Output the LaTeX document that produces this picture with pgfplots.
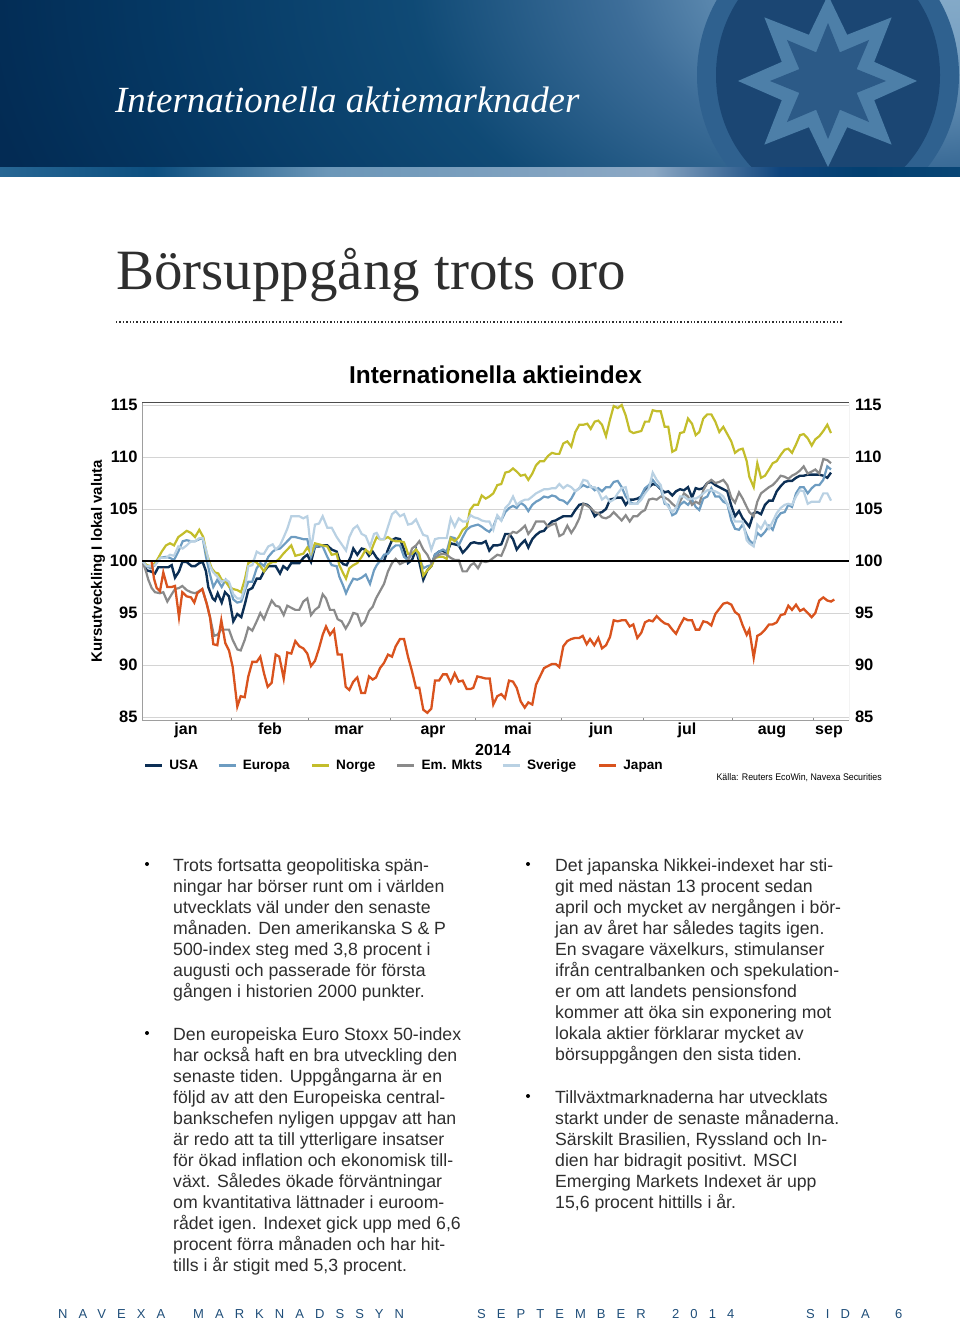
\documentclass[border=0pt]{standalone}
\usepackage{fontspec}
\usepackage{pgfplots}
\pgfplotsset{compat=1.18}
\setmainfont{Liberation Sans}
\newfontfamily\serifhead{Liberation Serif}
\newfontfamily\footfont[LetterSpace=85]{Liberation Sans}
\definecolor{cUSA}{HTML}{0C2F55}
\definecolor{cEur}{HTML}{6D9CC1}
\definecolor{cNor}{HTML}{C3BD2B}
\definecolor{cEm}{HTML}{8A8A8A}
\definecolor{cSve}{HTML}{B9D1E3}
\definecolor{cJap}{HTML}{D9531E}
\definecolor{ringc}{HTML}{2F618F}
\definecolor{innerc}{HTML}{1B4673}
\definecolor{starb}{HTML}{4D7FA8}
\definecolor{stari}{HTML}{2C5A87}
\definecolor{txt}{HTML}{2E2E2E}
\definecolor{foot}{HTML}{1F4E79}
\pgfdeclareradialshading{glow}{\pgfpoint{25bp}{6.25bp}}{%
 rgb(0bp)=(0.55,0.69,0.80);
 rgb(7bp)=(0.47,0.63,0.76);
 rgb(15bp)=(0.24,0.43,0.60);
 rgb(24bp)=(0.06,0.29,0.46);
 rgb(35bp)=(0.02,0.22,0.39);
 rgb(43bp)=(0.01,0.17,0.33);
 rgb(56bp)=(0.01,0.14,0.30);
 rgb(130bp)=(0.01,0.14,0.30)}
\pgfdeclarehorizontalshading{strip}{100bp}{%
 rgb(0bp)=(0.29,0.50,0.66);
 rgb(19bp)=(0.23,0.47,0.64);
 rgb(33bp)=(0.05,0.31,0.50);
 rgb(42bp)=(0.42,0.59,0.72);
 rgb(59bp)=(0.55,0.66,0.77);
 rgb(65.6bp)=(0.06,0.27,0.49);
 rgb(70bp)=(0.01,0.25,0.44);
 rgb(83bp)=(0.08,0.31,0.49);
 rgb(100bp)=(0.24,0.44,0.60)}
\newcommand\bodyfont{\fontsize{17.68}{21}\selectfont}
\begin{document}
\begin{tikzpicture}
\useasboundingbox (0,0) rectangle (960pt,-1325pt);
\begin{scope}[x=1pt,y=-1pt]
% header band
\begin{scope}
\clip (0,0) rectangle (960,167);
\shade[shading=glow] (0,-280) rectangle (960,360);
\fill[ringc] (828,75) ellipse [x radius=131,y radius=142];
\fill[innerc] (828,75) ellipse [x radius=112,y radius=126];
\fill[starb,shift={(828,81)}] (90:86)--(67.5:50)--(45:90)--(22.5:50)--(0:89)--(-22.5:50)--(-45:90)--(-67.5:50)--(-90:86)--(-112.5:50)--(-135:90)--(-157.5:50)--(180:90)--(157.5:50)--(135:90)--(112.5:50)--cycle;
\fill[stari,shift={(828,81)}] (90:58)--(67.5:31)--(45:58)--(22.5:31)--(0:58)--(-22.5:31)--(-45:58)--(-67.5:31)--(-90:58)--(-112.5:31)--(-135:58)--(-157.5:31)--(180:58)--(157.5:31)--(135:58)--(112.5:31)--cycle;
\end{scope}
\shade[shading=strip] (0,167) rectangle (960,176);
\node[anchor=west,inner sep=0,text=white,font=\serifhead\itshape\fontsize{36.9}{40}\selectfont] at (115,100) {Internationella aktiemarknader};
\node[anchor=west,inner sep=0,text=txt,font=\serifhead\fontsize{57}{60}\selectfont] at (116,275) {Börsuppgång trots oro};
\draw[txt,line width=2pt,dash pattern=on 1.4pt off 2pt] (116,322) -- (843,322);
\end{scope}
% chart
\begin{axis}[at={(142pt,-720pt)},anchor=south west,scale only axis,width=707pt,height=317.3pt,
 xmin=142,xmax=849,ymin=84.71,ymax=115.22,
 axis line style={color=black!38,line width=0.9pt},
 axis y line*=left, axis x line*=bottom,
 ytick={85,90,95,100,105,110,115},
 yticklabel style={font=\fontsize{16.5}{16}\selectfont\bfseries,/pgf/number format/assume math mode=true,xshift=-1pt},
 ymajorgrids,grid style={color=black!17,line width=0.7pt},
 xtick={186,270,349,433,518,601,687,772,829},
 xticklabels={jan,feb,mar,apr,mai,jun,jul,aug,sep},
 xticklabel style={font=\fontsize{16}{16}\selectfont\bfseries,text height=11.5pt,text depth=3.4pt,inner sep=0pt,yshift=-3pt},
 major tick length=0pt,
 extra x ticks={231.7,308.7,390.7,475,561.7,643,732.3,813.3},
 extra x tick labels={},
 extra x tick style={major tick length=2pt,tick style={color=black!45,line width=0.7pt},grid=none},
 title={Internationella aktieindex},
 every axis title/.style={at={(axis description cs:0.5,1.087)},anchor=center,font=\fontsize{24.4}{24}\selectfont\bfseries},
 ylabel={Kursutveckling I lokal valuta},
 every axis y label/.style={at={(axis description cs:-0.0622,0.5)},rotate=90,anchor=center,font=\fontsize{15}{16}\selectfont\bfseries},
 xlabel={2014},
 every axis x label/.style={at={(axis description cs:0.4965,-0.0945)},anchor=center,font=\fontsize{16}{16}\selectfont\bfseries},
 legend columns=6,
 legend style={draw=none,fill=none,at={(axis description cs:0,-0.1435)},anchor=west,xshift=2pt,font=\fontsize{13.6}{15}\selectfont\bfseries,inner sep=0pt,outer sep=0pt,
   /tikz/every even column/.style={column sep=0pt}},
 legend cell align=left,
 legend image code/.code={\draw[#1,line width=2.4pt] (0,0) -- (17pt,0);},
 clip=true,
]
\addplot[cUSA,line width=2.4pt] coordinates {(142.3,100)(146.7,99.1)(150.7,99.0)(155,98.8)(158.3,99.4)(163.3,99.4)(168.3,99.4)(171.7,99.6)(175,98.4)(179,99.0)(182.3,99.9)(186.7,99.9)(191.7,99.5)(195,99.5)(199.3,99.8)(202.7,99.9)(206,99.0)(208.3,97.5)(212.7,96.4)(215,96.2)(217.7,96.9)(221.7,96.0)(225,97.0)(229,96.6)(233.3,94.2)(237.3,94.9)(241.3,94.6)(245,95.9)(248.3,97.2)(252.3,97.4)(256.7,98.3)(260.3,98.3)(264,99.0)(268.3,99.5)(272.7,99.5)(275.7,99.5)(280,98.8)(283.3,99.5)(287.3,99.2)(291.3,99.8)(295.3,99.8)(299.3,99.8)(303.3,100.3)(307.3,100.6)(311,99.9)(315,101.4)(319,101.4)(322.7,101.5)(327.3,101.5)(331.7,101.1)(336.7,100.9)(339.3,100.1)(343.3,99.7)(346.7,99.6)(350.7,100.4)(353.3,101.2)(357.3,100.6)(361.7,101.2)(365,101.1)(369,100.5)(372.7,100.9)(376.7,100.3)(380,100)(384,100)(388,101.1)(392,102.0)(395.7,102.2)(400,102.1)(404,101.1)(408,99.8)(412,100.1)(416,101.1)(419.3,99.9)(423.3,98.2)(427.3,99.1)(431.3,99.5)(435,100.6)(439,100.9)(443,101.0)(446.7,100.7)(450.7,101.7)(454.7,101.6)(458.7,101.5)(462.7,100.8)(466.7,101.2)(470.7,101.7)(474,101.8)(478,101.7)(481.7,101.7)(485.7,101.9)(489.3,101.0)(493.3,101.5)(497.3,101.5)(501.3,101.6)(505.3,102.6)(509.3,102.6)(513,102.1)(516.7,101.1)(520.7,101.6)(525,102.0)(528.3,101.3)(532.3,102.1)(536,102.5)(540,102.8)(544,102.9)(548,103.4)(552,103.8)(555.7,103.9)(559.3,104.1)(563.3,104.3)(567.3,104.3)(571.3,104.3)(575.3,104.9)(579.3,105.4)(583.3,105.5)(587.3,105.4)(590.7,105.1)(594.7,104.3)(598.3,104.6)(602,104.7)(606,105.0)(610,105.9)(613.7,106.0)(617.7,106.1)(621.7,106.1)(625.7,105.4)(629.7,105.9)(633.3,105.9)(637.3,106.0)(641.3,106.2)(645,106.9)(649,107.1)(652.7,107.4)(656.7,107.3)(660.7,106.9)(664.7,106.6)(668.3,106.7)(672.3,106.3)(676,106.7)(680,106.9)(684,106.8)(688,107.1)(692,106.1)(695.7,107.0)(699.3,106.9)(703.3,107.0)(707.3,107.5)(711.3,107.6)(715.3,107.3)(719.3,107.1)(723.3,106.9)(727.3,106.7)(731,105.4)(735,104.3)(739,104.8)(742.7,104.1)(749.3,103.3)(753.7,104.6)(757.3,104.7)(761,104.5)(765,105.4)(769,105.8)(772.7,105.8)(776.7,106.7)(780.7,107.2)(784.7,107.6)(788.3,107.7)(792,107.7)(796,108.0)(800,108.2)(803.7,108.2)(807.7,108.3)(811.7,108.3)(815.3,108.3)(819.3,108.3)(823.3,108.2)(827.3,108.0)(831,108.5)};
\addlegendentry{\makebox[50pt][l]{\hspace{4pt}USA}}
\addplot[cEur,line width=2.2pt] coordinates {(142.3,100)(146.7,99.5)(150.7,99.3)(155,99.6)(160,100.3)(166,100.4)(170,100.3)(174,100.1)(178.3,100.9)(182.7,101.9)(186.7,102.0)(191,101.9)(195,101.9)(199.3,102.1)(202.7,102.2)(206,100.4)(210,98.7)(213.3,97.5)(217.3,98.2)(221.7,97.5)(225.7,98.2)(229,97.7)(233.3,96.3)(237.3,96.0)(241.3,96.1)(245,97.2)(248.3,98.0)(252.3,98.0)(256.7,99.3)(260.3,99.8)(264,99.5)(268.3,100.4)(272.7,100.9)(275.7,101.1)(280,101.2)(283.3,101.5)(287.3,101.9)(291.3,102.3)(295.3,102.3)(299.3,102.2)(303.3,102.1)(307.3,102.1)(311,100.4)(315,101.4)(319,101.5)(322.7,101.4)(327.3,100.4)(331.7,99.6)(336.7,99.5)(339.3,98.5)(343.3,97.6)(346,96.9)(349.3,97.6)(353.3,98.3)(357.3,98.2)(361.7,98.4)(365.7,98.7)(370,97.8)(374,99.1)(376.7,99.6)(380,100)(384,100.6)(388,100.7)(392,101.2)(395.7,101.5)(400,101.5)(404,100.4)(408,100.1)(412,100.7)(416,101.1)(419.3,100.3)(423.3,99.3)(427.3,99.5)(431.3,99.6)(435,100.6)(439,100.9)(443,101.1)(446.7,100.9)(450.7,102.3)(454.7,102.2)(458.7,101.5)(462.7,102.3)(466.7,103.0)(470.7,103.3)(474,103.4)(478,103.5)(481.7,103.3)(485.7,103.0)(489.3,102.8)(493.3,103.3)(497.3,104.3)(501.3,103.9)(505.3,104.7)(509.3,105.1)(513,105.3)(516.7,105.1)(520.7,105.6)(525,105.3)(528.3,104.8)(532.3,105.4)(536,105.7)(540,105.9)(544,106.2)(548,106.1)(552,106.3)(555.7,106.2)(559.3,105.9)(563.3,105.8)(567.3,105.5)(571.3,106.0)(575.3,106.7)(579.3,107.0)(583.3,107.3)(587.3,107.1)(590.7,107.2)(594.7,106.8)(598.3,107.0)(602,106.7)(606,107.1)(610,107.1)(613.7,107.6)(617.7,107.7)(621.7,107.1)(625.7,106.2)(629.7,105.7)(633.3,105.5)(637.3,105.5)(641.3,106.3)(645,107.0)(649,107.3)(652.7,107.8)(656.7,107.3)(660.7,107.0)(664.7,105.5)(668.3,105.4)(672.3,104.4)(676,104.6)(680,105.4)(684,105.7)(688,105.4)(692,105.9)(695.7,105.2)(699.3,104.9)(703.3,106.0)(707.3,106.2)(711.3,107.0)(715.3,106.2)(719.3,106.2)(723.3,105.7)(727.3,105.5)(731.3,103.9)(735,103.1)(739,103.0)(742.7,103.5)(746.7,102.5)(749.3,102.0)(753.7,101.6)(757.3,102.7)(761,102.4)(765,102.8)(769,103.4)(772.7,103.0)(776.7,104.1)(780.7,104.6)(784.7,104.7)(788.3,105.4)(792,105.2)(796,106.5)(800,107.1)(803.7,107.1)(807.7,106.5)(811.7,107.0)(815.3,107.3)(819.3,107.3)(823.3,107.8)(827.3,109.1)(831,108.8)};
\addlegendentry{\makebox[70pt][l]{\hspace{4pt}Europa}}
\addplot[cNor,line width=2.2pt] coordinates {(142.3,100)(146.7,99.6)(150.7,99.5)(155,99.8)(158.3,100.3)(161.7,100.9)(166,101.5)(170,101.7)(174,101.5)(178.3,102.3)(182.7,102.6)(186.7,102.9)(191,102.7)(195,102.3)(199.3,103.0)(203.3,102.3)(206.7,100.7)(211.7,99.3)(215,98.9)(218.3,98.8)(221.7,98.2)(225.7,98.0)(229.3,97.5)(233.3,97.3)(237.3,97.2)(241,97.0)(245,98.3)(248.3,99.8)(252.3,100)(256,99.9)(260.3,99.5)(264,99.0)(268.3,99.7)(272.7,99.9)(275.7,99.9)(280,100.3)(283.3,100.7)(287.3,101.1)(291.3,101.5)(295.3,100.5)(299.3,100.6)(303.3,100.7)(307.3,101.3)(311,100.7)(315,101.7)(319,101.6)(322.7,101.5)(327.3,101.4)(331.7,100.6)(336.7,100.7)(339.3,99.6)(343.3,98.8)(346,98.3)(349.3,99.3)(353.3,99.6)(357.3,99.8)(361.7,100.4)(365.7,101.1)(370,100.7)(374,101.7)(376.7,102.3)(380,102.1)(384,102.1)(388,102.3)(392,102.0)(395.7,101.9)(400,101.9)(404,101.8)(408,100.7)(412,100.7)(416,101.1)(419.3,100.7)(423.3,98.6)(427.3,99.1)(431.3,99.5)(435,100.3)(439,100.4)(443,100.4)(446.7,100.2)(450.7,102.2)(454.7,101.9)(458.7,102.3)(462.7,103.0)(466.7,103.3)(470,104.9)(474,105.4)(478,105.4)(481.7,106.3)(485.7,106.0)(489.3,106.2)(493.3,106.5)(497.3,107.3)(501.3,107.4)(505.3,108.5)(509.3,108.6)(513,108.9)(516.7,108.6)(520.7,108.2)(525,108.3)(528.3,107.8)(532.3,108.4)(536,109.2)(540,109.6)(544,109.6)(548,110.1)(552,110.4)(555.7,110.3)(559.3,110.3)(563.3,111.3)(567.3,111.5)(571.3,111.0)(575.3,112.4)(579.3,113.1)(583.3,113.1)(587.3,113.2)(590.7,112.7)(594.7,113.4)(598.3,113.5)(602,113.1)(606,112.0)(610,113.6)(613.7,114.9)(617.7,114.7)(621.7,115.0)(625.7,114.0)(629.7,112.5)(633.3,112.3)(637.3,112.4)(641.3,112.5)(645,113.4)(649,113.4)(652.7,114.5)(656.7,114.4)(660.7,114.4)(664.7,112.9)(668.3,112.9)(672.3,110.5)(676,110.7)(680,112.3)(684,112.4)(688,113.7)(692,113.2)(695.7,112.1)(699.3,112.4)(703.3,113.7)(707.3,114.1)(711.3,114.1)(715.3,113.4)(719.3,112.4)(723.3,112.9)(727.3,112.2)(731.3,111.5)(735,110.4)(739,110.7)(742.7,110.8)(746.7,109.6)(749.3,108.1)(753.7,107.1)(757.3,109.4)(761,108.0)(765,108.2)(769,108.8)(772.7,109.4)(776.7,109.6)(780.7,110.2)(784.7,110.7)(788.3,110.8)(792,110.4)(796,111.2)(800,112.1)(803.7,112.2)(807.7,111.8)(811.7,111.1)(815.3,111.7)(819.3,112.0)(823.3,112.5)(827.3,113.1)(831,112.3)};
\addlegendentry{\makebox[62pt][l]{\hspace{4pt}Norge}}
\addplot[cEm,line width=2.2pt] coordinates {(142.3,100)(145.7,99.1)(148.3,98.2)(151.7,97.4)(155,97.0)(160,96.9)(163.3,97.0)(167.3,96.1)(171.7,96.8)(175,97.3)(179,97.4)(182.3,97.6)(186.7,97.2)(191,97.0)(195,96.9)(197.3,97.0)(202.3,97.3)(206.7,95.9)(210,94.6)(214,92.8)(217.3,92.9)(221.3,93.4)(225.3,93.4)(229,93.4)(232.7,92.4)(237.3,91.5)(240.7,91.4)(244.7,92.4)(248.3,93.6)(252.3,93.3)(256.7,94.2)(260.3,95.0)(264,94.4)(267.7,95.3)(271.7,96.2)(275.7,95.7)(279.3,95.6)(283.7,94.8)(287.3,95.7)(291.3,95.5)(295.3,95.3)(299.3,95.3)(303.3,96.1)(307.3,96.4)(311,94.8)(315,95.3)(319,95.6)(322.7,96.8)(326,96.4)(330,95.3)(334,95.3)(337.7,94.4)(341.7,94.2)(345.7,93.5)(349.3,94.1)(353.3,95.0)(357.3,94.9)(361.3,93.8)(365,94.2)(369,95.2)(372.7,95.6)(376,96.4)(380,97.1)(384,97.8)(388,99.0)(392,99.8)(395.7,100.2)(400,99.7)(404,99.9)(408,100)(412,101.2)(416,101.5)(419.3,101.9)(423.3,101.1)(427.3,100.6)(431.3,99.8)(435,100.3)(439,100.6)(443,100.7)(446.7,100.6)(450.7,100.3)(454.7,100.1)(458.7,100.1)(462.7,99.0)(466.7,99.0)(470.7,99.6)(474,99.8)(478,99.3)(481.7,100)(485.7,99.9)(489.3,100)(493.3,100.3)(497.3,100.6)(501.3,100.5)(505.3,101.4)(509.3,102.5)(513,102.8)(516.7,102.7)(520.7,103.0)(525,103.4)(528.3,102.6)(532.3,103.1)(536,103.8)(540,103.8)(544,103.8)(548,103.3)(552,103.5)(555.7,103.6)(559.3,102.4)(563.3,102.6)(567.3,103.4)(571.3,102.7)(575.3,103.3)(579.3,104.1)(583.3,105.5)(587.3,105.3)(590.7,105.1)(594.7,104.7)(598.3,104.6)(602,104.2)(606,104.1)(610,104.3)(613.7,104.7)(617.7,104.3)(621.7,103.9)(625.7,104.4)(629.7,103.8)(633.3,104.3)(637.3,104.3)(641.3,104.7)(645,104.9)(649,105.9)(652.7,106.0)(656.7,105.9)(660.7,106.2)(664.7,106.1)(668.3,105.9)(672.3,105.5)(676,105.2)(680,105.7)(684,106.5)(688,106.2)(692,105.4)(695.7,105.7)(699.3,105.5)(703.3,106.8)(707.3,107.5)(711.3,107.8)(715.3,107.5)(719.3,107.6)(723.3,107.8)(727.3,107.3)(731.3,106.1)(735,105.6)(739,106.6)(742.7,106.0)(746.7,105.2)(749.3,104.7)(753.7,104.3)(757.3,105.7)(761,106.5)(765,106.8)(769,107.1)(772.7,107.3)(776.7,107.7)(780.7,108.2)(784.7,108.1)(788.3,107.9)(792,108.2)(796,108.4)(800,108.7)(803.7,109.1)(807.7,108.4)(811.7,108.6)(815.3,108.8)(819.3,108.4)(823.3,109.8)(827.3,109.7)(831,109.4)};
\addlegendentry{\makebox[82pt][l]{\hspace{4pt}Em. Mkts}}
\addplot[cSve,line width=2.2pt] coordinates {(142.3,100)(146.7,99.5)(150.7,99.5)(155,99.6)(160,100.3)(166,100.3)(170,100.6)(174,100.5)(178.3,101.4)(182.7,101.2)(186.7,101.5)(191,101.9)(195,101.9)(199.3,102.2)(202.7,102.2)(206,101.1)(210,99.5)(213.3,98.9)(217.3,98.5)(221.7,98.0)(225.7,98.2)(229,98.0)(233.3,96.8)(237.3,96.4)(241.3,96.4)(245,97.5)(248.3,99.5)(252.3,99.6)(256.7,100.9)(260.3,100.7)(264,100.7)(268.3,101.4)(272.7,101.6)(275.7,101.1)(280,101.5)(283.3,102.2)(287.3,103.1)(291.3,104.3)(295.3,104.3)(299.3,104.3)(303.3,104.1)(307.3,104.3)(311,101.1)(315,103.5)(319,103.6)(322.7,104.3)(327.3,103.2)(331.7,103.2)(336.7,102.3)(341.7,101.6)(346,101.0)(349.3,102.3)(353.3,103.1)(357.3,103.4)(361.7,102.6)(365.7,102.4)(370,101.4)(374,102.6)(376.7,102.7)(380,102.1)(384,102.1)(388,103.3)(392,104.5)(395.7,104.8)(400,104.3)(404,104.5)(408,103.5)(412,103.6)(416,104.0)(419.3,103.3)(423.3,102.5)(427.3,102.4)(431.3,101.1)(435,102.1)(439,102.2)(443,102.2)(446.7,102.2)(450.7,104.1)(454.7,103.3)(458.7,104.1)(462.7,103.8)(466.7,103.8)(470.7,104.4)(474,104.2)(478,104.1)(481.7,103.9)(485.7,103.8)(489.3,103.8)(493.3,103.0)(497.3,104.4)(501.3,103.9)(505.3,105.1)(509.3,105.5)(513,106.2)(516.7,105.4)(520.7,105.7)(525,105.9)(528.3,105.9)(532.3,106.2)(536,106.5)(540,106.7)(544,106.9)(548,106.9)(552,107.0)(555.7,107.0)(559.3,107.4)(563.3,107.0)(567.3,107.3)(571.3,107.1)(575.3,106.7)(579.3,107.0)(583.3,107.8)(587.3,107.7)(590.7,107.1)(594.7,107.1)(598.3,106.7)(602,105.9)(606,106.2)(610,105.7)(613.7,105.9)(617.7,106.5)(621.7,107.0)(625.7,107.1)(629.7,105.5)(633.3,105.5)(637.3,105.5)(641.3,105.9)(645,106.5)(649,107.0)(652.7,108.5)(656.7,107.8)(660.7,107.3)(664.7,105.7)(668.3,105.2)(672.3,104.7)(676,105.1)(680,106.2)(684,106.2)(688,105.9)(692,106.0)(695.7,106.0)(699.3,106.2)(703.3,106.5)(707.3,106.8)(711.3,106.8)(715.3,106.7)(719.3,106.5)(723.3,106.2)(727.3,105.5)(731.3,104.6)(735,103.8)(739,103.8)(742.7,103.8)(746.7,102.0)(749.3,101.7)(753.7,101.4)(757.3,103.5)(761,103.1)(765,103.8)(769,103.1)(772.7,103.8)(776.7,104.6)(780.7,105.1)(784.7,105.4)(788.3,105.5)(792,105.4)(796,106.2)(800,106.8)(803.7,106.7)(807.7,105.5)(811.7,105.7)(815.3,105.7)(819.3,105.7)(823.3,106.5)(827.3,106.5)(831,105.8)};
\addlegendentry{\makebox[73pt][l]{\hspace{4pt}Sverige}}
\addplot[cJap,line width=2.3pt] coordinates {(151.7,99.9)(154,98.3)(156.7,97.4)(160,97.1)(163.3,98.9)(167.3,97.5)(171.7,97.5)(175,97.6)(179,94.6)(182.3,97.0)(186.7,96.6)(191,96.5)(194.3,96.0)(197.3,96.9)(202.3,97.3)(206.7,95.9)(210,94.6)(213.3,92.0)(217.3,91.9)(221.3,94.3)(225.3,92.1)(229,91.4)(232.7,89.8)(237.3,86.0)(240.7,87.0)(244.7,86.9)(248.3,88.9)(252.3,90.3)(256.7,90.3)(260.3,90.8)(264,89.2)(267.7,87.9)(271.7,88.3)(275.7,91.0)(279.3,90.8)(283.7,88.7)(287.3,91.2)(291.3,91.1)(295.3,92.3)(299.3,91.8)(303.3,91.6)(307.3,91.1)(311,89.9)(315,90.4)(319,91.6)(322.7,92.9)(326,93.7)(330,92.9)(334,93.4)(337.7,91.0)(341.7,91.0)(345.7,87.9)(349.3,87.6)(353.3,88.4)(357.3,88.8)(361.3,87.3)(365,87.3)(369,88.9)(372.7,88.6)(376,88.8)(380,89.7)(384,90.2)(388,91.0)(392,90.8)(395.7,91.8)(400,92.5)(404,92.5)(408,90.8)(412,89.4)(416,87.8)(419.3,87.8)(423.3,85.7)(427.3,85.4)(431.3,85.8)(435,88.5)(439,88.5)(443,89.1)(446.7,89.1)(450.7,88.3)(454.7,89.2)(458.7,88.4)(462.7,88.5)(466.7,87.7)(470.7,87.7)(473.3,87.8)(477.3,88.9)(481.7,88.8)(485.7,88.7)(489.7,88.7)(493.3,86.2)(497.3,87.0)(501.3,87.2)(505,86.8)(509,88.5)(513,88.4)(516.7,87.8)(520.7,86.5)(524.7,85.9)(528.3,86.4)(532.3,86.2)(536,88.1)(540,88.9)(544,89.7)(548,89.9)(552,90.1)(555.7,90.1)(559.3,89.8)(563.3,91.8)(567.3,92.3)(571.3,92.5)(575.3,92.6)(579.3,92.6)(582.7,92.8)(586.7,92.0)(590,92.5)(594.3,91.9)(598.3,92.6)(602,91.6)(606,91.9)(610,92.7)(613.7,94.3)(617.7,94.2)(621.7,94.3)(625.7,94.3)(629.7,93.7)(633.3,93.9)(637.3,92.6)(641.3,93.1)(645,94.1)(649,94.3)(652.7,94.2)(656.7,94.7)(660.7,94.3)(664.7,94.0)(668.3,93.9)(672.3,93.4)(676,93.0)(680,93.8)(684,94.5)(688,94.3)(692,94.3)(695.7,93.4)(699.3,93.4)(703.3,94.2)(707.3,94.1)(711.3,93.8)(715.3,94.9)(719.3,95.4)(723.3,95.9)(727.3,96.0)(731.3,95.8)(735,95.1)(739,94.8)(742.7,93.8)(746.7,92.9)(749.3,93.4)(753.7,90.7)(757.3,92.8)(761,93.0)(765,93.4)(769,93.9)(772.7,93.9)(776.7,94.1)(780.7,94.8)(784.7,94.9)(788.3,95.7)(792,95.3)(796,95.8)(800,95.2)(803.7,95.4)(807.7,95.0)(811.7,94.6)(815.3,95.0)(819.3,96.2)(823.3,96.5)(827.3,96.2)(831,96.1)(834.3,96.3)};
\addlegendentry{\makebox[40pt][l]{\hspace{4pt}Japan}}
\addplot[black,line width=2.6pt,forget plot] coordinates {(142,100)(849,100)};
\draw[black!70,line width=1pt] (rel axis cs:0,1) -- (rel axis cs:1,1);
\draw[black!38,line width=0.9pt] (rel axis cs:1,0) -- (rel axis cs:1,1);
\end{axis}
\begin{axis}[at={(142pt,-720pt)},anchor=south west,scale only axis,width=707pt,height=317.3pt,
 xmin=142,xmax=849,ymin=84.71,ymax=115.22,
 axis x line=none,axis y line*=right,axis line style={draw=none},
 ytick={85,90,95,100,105,110,115},major tick length=0pt,
 yticklabel style={font=\fontsize{16.5}{16}\selectfont\bfseries,/pgf/number format/assume math mode=true,xshift=2.5pt},
]
\end{axis}
\begin{scope}[x=1pt,y=-1pt]
\node[anchor=east,inner sep=0,font=\fontsize{9.6}{10}\selectfont] at (882,777.5) {\scalebox{0.92}[1]{Källa: Reuters EcoWin, Navexa Securities}};
% body
\node[anchor=north west,inner sep=0,align=left,text=txt,font=\bodyfont] at (173,858) {Trots fortsatta geopolitiska spän-\\ningar har börser runt om i världen\\utvecklats väl under den senaste\\månaden. Den amerikanska S \& P\\500-index steg med 3,8 procent i\\augusti och passerade för första\\gången i historien 2000 punkter.};
\node[anchor=north west,inner sep=0,align=left,text=txt,font=\bodyfont] at (173,1027) {Den europeiska Euro Stoxx 50-index\\har också haft en bra utveckling den\\senaste tiden. Uppgångarna är en\\följd av att den Europeiska central-\\bankschefen nyligen uppgav att han\\är redo att ta till ytterligare insatser\\för ökad inflation och ekonomisk till-\\växt. Således ökade förväntningar\\om kvantitativa lättnader i euroom-\\rådet igen. Indexet gick upp med 6,6\\procent förra månaden och har hit-\\tills i år stigit med 5,3 procent.};
\node[anchor=north west,inner sep=0,align=left,text=txt,font=\bodyfont] at (555,858) {Det japanska Nikkei-indexet har sti-\\git med nästan 13 procent sedan\\april och mycket av nergången i bör-\\jan av året har således tagits igen.\\En svagare växelkurs, stimulanser\\ifrån centralbanken och spekulation-\\er om att landets pensionsfond\\kommer att öka sin exponering mot\\lokala aktier förklarar mycket av\\börsuppgången den sista tiden.};
\node[anchor=north west,inner sep=0,align=left,text=txt,font=\bodyfont] at (555,1090) {Tillväxtmarknaderna har utvecklats\\starkt under de senaste månaderna.\\Särskilt Brasilien, Ryssland och In-\\dien har bidragit positivt. MSCI\\Emerging Markets Indexet är upp\\15,6 procent hittills i år.};
\fill[black] (147,864) circle (2) (147,1033) circle (2) (528,864) circle (2) (528,1096) circle (2);
% footer
\foreach \xx/\tt in {58/NAVEXA,193/MARKNADSSYN,477/SEPTEMBER,672/2014,806/SIDA,895/6}
 \node[anchor=west,inner sep=0,text=foot,font=\footfont\fontsize{13}{14}\selectfont] at (\xx,1314) {\tt};
\end{scope}
\end{tikzpicture}
\end{document}
